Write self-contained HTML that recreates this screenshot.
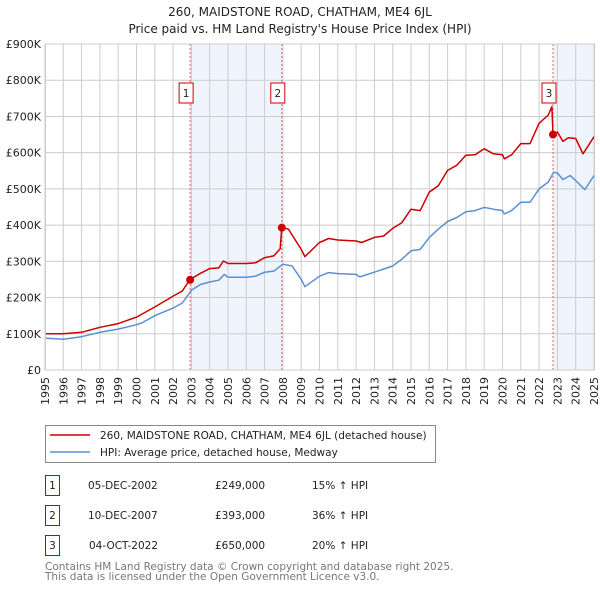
<!DOCTYPE html>
<html><head><meta charset="utf-8"><style>
body{margin:0;background:#fff;font-family:"DejaVu Sans","Liberation Sans",sans-serif;}
svg{display:block}
</style></head><body>
<svg width="600" height="590" viewBox="0 0 600 590" xmlns="http://www.w3.org/2000/svg" font-family="DejaVu Sans, Liberation Sans, sans-serif">
<text x="300" y="16" text-anchor="middle" font-size="12" fill="#222">260, MAIDSTONE ROAD, CHATHAM, ME4 6JL</text>
<text x="300" y="33" text-anchor="middle" font-size="12" fill="#222">Price paid vs. HM Land Registry's House Price Index (HPI)</text>
<g id="plot"></g>
<g>
<rect x="45.5" y="425.5" width="390" height="37" fill="#fff" stroke="#888"/>
<line x1="50" y1="435" x2="90" y2="435" stroke="#cc0000" stroke-width="1.5"/>
<text x="100" y="439" font-size="10.5" fill="#222">260, MAIDSTONE ROAD, CHATHAM, ME4 6JL (detached house)</text>
<line x1="50" y1="452" x2="90" y2="452" stroke="#5b8fd4" stroke-width="1.5"/>
<text x="100" y="456" font-size="10.5" fill="#222">HPI: Average price, detached house, Medway</text>
</g>
<g font-size="10.5" fill="#222">
<rect x="45.5" y="475.5" width="14" height="20" fill="#fff" stroke="#cc0000"/><text x="52.5" y="489" text-anchor="middle">1</text>
<text x="88" y="489">05-DEC-2002</text><text x="215" y="489">£249,000</text><text x="312" y="489">15% ↑ HPI</text>
<rect x="45.5" y="505.5" width="14" height="20" fill="#fff" stroke="#cc0000"/><text x="52.5" y="519" text-anchor="middle">2</text>
<text x="88" y="519">10-DEC-2007</text><text x="215" y="519">£393,000</text><text x="312" y="519">36% ↑ HPI</text>
<rect x="45.5" y="535.5" width="14" height="20" fill="#fff" stroke="#cc0000"/><text x="52.5" y="549" text-anchor="middle">3</text>
<text x="89" y="549">04-OCT-2022</text><text x="215" y="549">£650,000</text><text x="312" y="549">20% ↑ HPI</text>
</g>
<text x="45" y="570" font-size="10.5" fill="#777">Contains HM Land Registry data © Crown copyright and database right 2025.</text>
<text x="45" y="580" font-size="10.5" fill="#777">This data is licensed under the Open Government Licence v3.0.</text>
</svg>
<script>
const yTicks=[0,100,200,300,400,500,600,700,800,900];
const yTickLabels=["£0","£100K","£200K","£300K","£400K","£500K","£600K","£700K","£800K","£900K"];
const xYears=[1995,1996,1997,1998,1999,2000,2001,2002,2003,2004,2005,2006,2007,2008,2009,2010,2011,2012,2013,2014,2015,2016,2017,2018,2019,2020,2021,2022,2023,2024,2025];
const hpiT=[1995,1996,1997,1998,1999,2000,2000.3,2001,2002,2002.5,2003,2003.5,2004,2004.5,2004.8,2005,2006,2006.5,2007,2007.5,2008,2008.5,2009,2009.2,2010,2010.5,2011,2012,2012.2,2013,2014,2014.5,2015,2015.5,2016,2016.5,2017,2017.5,2018,2018.5,2019,2019.5,2020,2020.1,2020.5,2021,2021.5,2022,2022.5,2022.8,2023,2023.3,2023.7,2024,2024.5,2025];
const hpiV=[88,85,92,104,113,125,130,150,171,185,220,236,243,248,264,256,256,259,270,273,292,287,250,230,259,269,266,264,257,270,287,306,329,333,366,389,410,421,437,440,449,444,440,431,440,463,463,500,519,546,544,526,537,523,498,537];
const priceT=[1995,1996,1997,1998,1999,2000,2001,2002,2002.5,2002.93,2003.5,2004,2004.5,2004.75,2005,2006,2006.5,2007,2007.5,2007.85,2007.94,2008.3,2009,2009.2,2010,2010.5,2011,2012,2012.3,2013,2013.5,2014,2014.5,2015,2015.5,2016,2016.5,2017,2017.5,2018,2018.5,2019,2019.5,2020,2020.1,2020.5,2021,2021.5,2022,2022.5,2022.7,2022.76,2023,2023.3,2023.6,2024,2024.4,2024.7,2025];
const priceV=[100,100,104,118,128,146,174,204,218,250,267,280,282,301,294,294,296,310,315,335,393,389,333,313,352,363,359,356,352,366,370,391,407,444,440,491,509,551,565,593,594,611,597,594,583,594,625,625,681,704,727,650,657,631,641,639,597,620,644];
const saleT=[2002.93,2007.94,2022.76];
const saleV=[249,393,650];
const saleLabels=["1","2","3"];
const shadeStart=[2002.93,2022.76];
const shadeEnd=[2007.94,2025];

const X0=45,X1=594,Y0=370,Y1=44;
const xs=t=>X0+(t-1995)/30*(X1-X0);
const ys=v=>Y0-v/900*(Y0-Y1);
const NS="http://www.w3.org/2000/svg";
const g=document.getElementById('plot');
function mk(tag,attrs,parent){const e=document.createElementNS(NS,tag);for(const k in attrs)e.setAttribute(k,attrs[k]);(parent||g).appendChild(e);return e;}
shadeStart.forEach((s,i)=>{const r=mk('rect',{x:xs(s),y:Y1,width:xs(shadeEnd[i])-xs(s),height:Y0-Y1,fill:'#f0f4fc'});

});
xYears.forEach(yr=>{const l=mk('line',{x1:xs(yr),x2:xs(yr),y1:Y1,y2:Y0,stroke:'#ccc','stroke-width':1});


const t=mk('text',{transform:`translate(${xs(yr)+4},405) rotate(-90)`,'font-size':11,fill:'#222'});t.textContent=yr;

});
yTicks.forEach((v,i)=>{const l=mk('line',{x1:X0,x2:X1,y1:ys(v),y2:ys(v),stroke:'#ccc','stroke-width':1});


const t=mk('text',{x:X0-4,y:ys(v)+4,'text-anchor':'end','font-size':11,fill:'#222'});t.textContent=yTickLabels[i];

});
saleT.forEach((s,i)=>{const l=mk('line',{x1:xs(s),x2:xs(s),y1:Y1,y2:Y0,stroke:'#e06060','stroke-width':1,'stroke-dasharray':'2,2'});

});
function path(T,V,color,name){const d=T.map((t,i)=>(i?'L':'M')+xs(t).toFixed(1)+','+ys(V[i]).toFixed(1)).join('');
const p=mk('path',{d:d,fill:'none',stroke:color,'stroke-width':1.5,'stroke-linejoin':'round'});

}
path(hpiT,hpiV,'#5b8fd4','hpi-line');
path(priceT,priceV,'#cc0000','price-line');
saleT.forEach((s,i)=>{const c=mk('circle',{cx:xs(s),cy:ys(saleV[i]),r:4,fill:'#cc0000'});


const bx=xs(s)-11,by=83;
const r=mk('rect',{x:bx,y:by,width:14,height:20,fill:'#fff',stroke:'#cc0000'});


const t=mk('text',{x:bx+7,y:by+14,'text-anchor':'middle','font-size':10.5,fill:'#222'});t.textContent=saleLabels[i];

});
const b=mk('rect',{x:X0+0.5,y:Y1,width:X1-X0,height:Y0-Y1,fill:'none',stroke:'#ccc'});


</script>
</body></html>
